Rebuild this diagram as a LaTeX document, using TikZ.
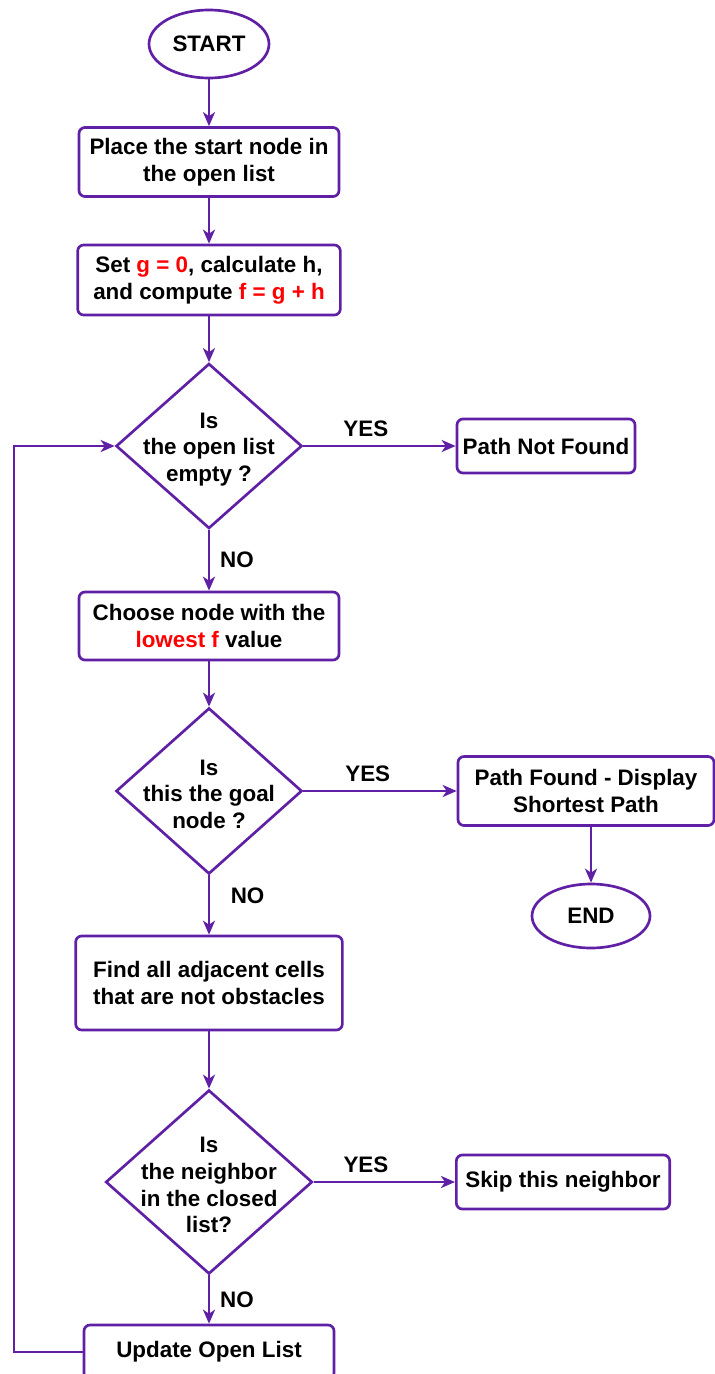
\documentclass[tikz,border=0pt]{standalone}
\usepackage{fontspec}
\setmainfont{Liberation Sans}
\usepackage{tikz}
\usetikzlibrary{arrows.meta,shapes.geometric}
\definecolor{flowpurple}{RGB}{96,32,165}
\definecolor{hlred}{RGB}{255,0,0}
\newcommand{\hl}[1]{\textcolor{hlred}{#1}}

\begin{document}
\begin{tikzpicture}[x=0.75pt, y=-0.75pt, >={Stealth[length=10.5pt,width=9pt,inset=3pt]}]
\tikzset{every node/.style={font=\bfseries\fontsize{16.8}{20}\selectfont, align=center}}
\tikzset{every label/.style={yshift=-2.5pt}}
\tikzset{process/.style={draw=flowpurple, line width=2pt, rounded corners=4.5pt, fill=white}}
\tikzset{terminal/.style={draw=flowpurple, line width=2pt, ellipse, inner sep=0pt}}
\tikzset{decision/.style={draw=flowpurple, line width=2pt, diamond, inner sep=0pt}}
\tikzset{flow/.style={draw=flowpurple, line width=2pt, ->}}
\useasboundingbox (0,0) rectangle (714,1374);

% main column
\node[terminal, minimum width=90pt, minimum height=51pt] (start) at (209,44) {START};
\node[process, minimum width=195pt, minimum height=51.75pt] (place) at (209,162) {Place the start node in\\the open list};
\node[process, minimum width=197pt, minimum height=52.5pt] (setg) at (209,280) {Set \hl{g = 0}, calculate h,\\and compute \hl{f = g + h}};
\node[decision, minimum width=139.5pt, minimum height=123.75pt,
  label={center:Is\\the open list\\empty ?}] (empty) at (209,446) {};
\node[process, minimum width=195pt, minimum height=51pt] (choose) at (209,626) {Choose node with the\\\hl{lowest f} value};
\node[decision, minimum width=139.5pt, minimum height=124.5pt,
  label={center:Is\\this the goal\\node ?}] (goal) at (209,791) {};
\node[process, minimum width=200pt, minimum height=70.5pt] (adjacent) at (209,983) {Find all adjacent cells\\that are not obstacles};
\node[decision, minimum width=155pt, minimum height=138pt,
  label={center:Is\\the neighbor\\in the closed\\list?}] (closed) at (209,1182) {};
\node[process, minimum width=187.5pt, minimum height=40.5pt] (update) at (209,1352) {Update Open List};

% right column
\node[process, minimum width=133.5pt, minimum height=40.5pt, inner sep=2pt] (notfound) at (546,446) {Path Not Found};
\node[process, minimum width=192pt, minimum height=51.75pt] (found) at (586,791) {Path Found - Display\\Shortest Path};
\node[terminal, minimum width=88.5pt, minimum height=48pt] (end) at (591,916) {END};
\node[process, minimum width=160pt, minimum height=40.5pt] (skip) at (563,1182) {Skip this neighbor};
\coordinate (loopc) at (14,1352);

\draw[flow] (start) -- (place);
\draw[flow] (place) -- (setg);
\draw[flow] (setg.south) -- (empty.north);
\draw[flow] (empty.east) -- node[pos=0.41, above=3pt] {YES} (notfound.west);
\draw[flow] (empty.south) -- node[right=4pt] {NO} (choose.north);
\draw[flow] (choose.south) -- (goal.north);
\draw[flow] (goal.east) -- node[pos=0.42, above=3pt] {YES} (found.west);
\draw[flow] (found.south -| end.north) -- (end.north);
\draw[flow] (goal.south) -- node[pos=0.35, right=12pt] {NO} (adjacent.north);
\draw[flow] (adjacent.south) -- (closed.north);
\draw[flow] (closed.east) -- node[pos=0.37, above=3pt] {YES} (skip.west);
\draw[flow] (closed.south) -- node[right=4pt] {NO} (update.north);
\draw[flow] (update.west) -- (loopc) |- (empty.west);
\end{tikzpicture}
\end{document}
